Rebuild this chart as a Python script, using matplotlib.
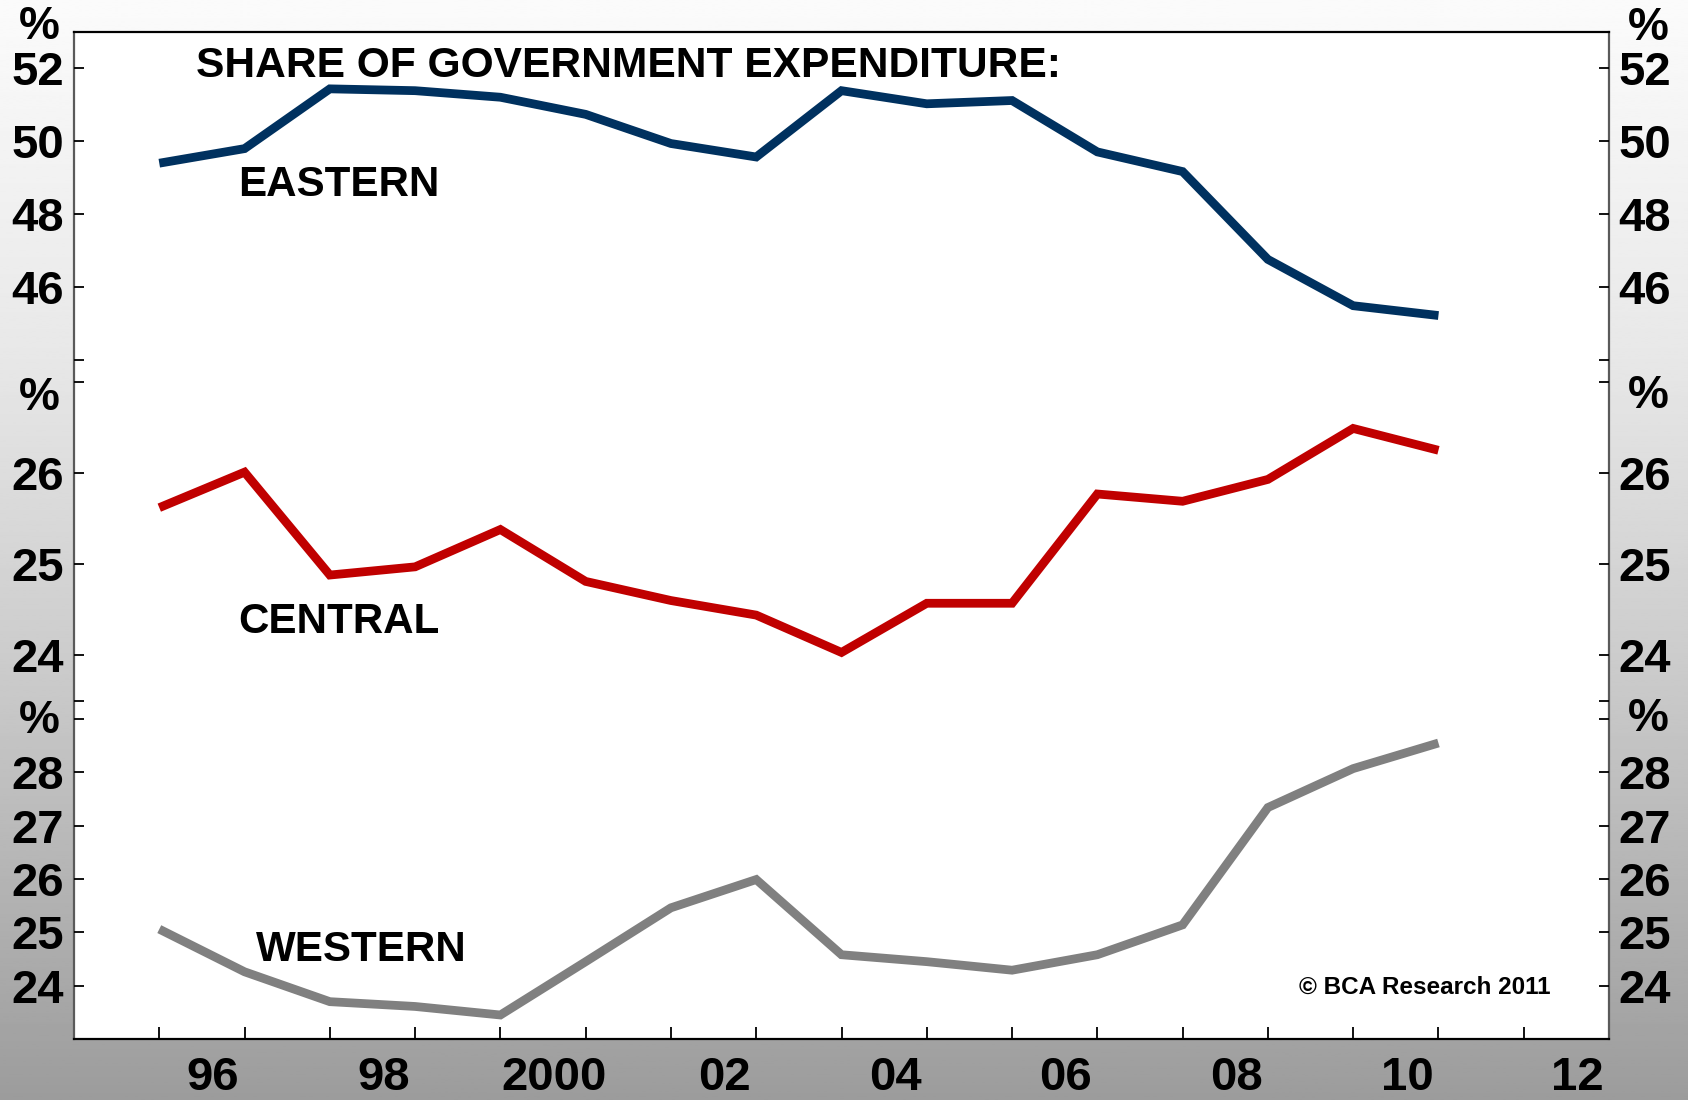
import numpy as np
import matplotlib
matplotlib.use("Agg")
import matplotlib.pyplot as plt

plt.rcParams['font.family'] = ['Liberation Sans', 'DejaVu Sans']
plt.rcParams['font.weight'] = 'bold'

# datos anuales, 1995-2010 (% del gasto del gobierno)
years = [1995, 1996, 1997, 1998, 1999, 2000, 2001, 2002,
         2003, 2004, 2005, 2006, 2007, 2008, 2009, 2010]
eastern = [49.4, 49.8, 51.44, 51.39, 51.21, 50.74, 49.94, 49.57,
           51.39, 51.03, 51.12, 49.71, 49.17, 46.76, 45.49, 45.22]
central = [25.62, 26.01, 24.88, 24.97, 25.38, 24.81, 24.60, 24.44,
           24.03, 24.57, 24.57, 25.77, 25.69, 25.93, 26.49, 26.25]
western = [25.06, 24.26, 23.70, 23.61, 23.45, 24.45, 25.46, 25.99,
           24.58, 24.45, 24.29, 24.58, 25.14, 27.34, 28.07, 28.55]

year_labels = ['96', '98', '2000', '02', '04', '06', '08', '10', '12']
label_years = [1996, 1998, 2000, 2002, 2004, 2006, 2008, 2010, 2012]

eastern_ticks = [44, 46, 48, 50, 52]
central_ticks = [23.5, 24, 25, 26, 27]
western_ticks = [24, 25, 26, 27, 28, 29]

# valor anual dibujado al final del año
x = np.array(years) + 1.0

fig = plt.figure(figsize=(16.88, 11), dpi=100)

# fondo degradado
bg = fig.add_axes([0, 0, 1, 1], zorder=-3)
rows = np.linspace(0, 1100, 400)
shade = np.interp(rows, [0, 350, 700, 1100], [251, 232, 200, 156]) / 255.0
bg.imshow(np.repeat(shade[:, None], 2, axis=1), cmap='gray', vmin=0, vmax=1,
          aspect='auto', extent=[0, 1, 0, 1])
bg.axis('off')

L, W = 74 / 1688, 1535 / 1688
def fy(px):
    return 1 - px / 1100

frame = fig.add_axes([L, fy(1039), W, fy(32) - fy(1039)], zorder=-2)
frame.set_facecolor('white')
frame.set_xticks([])
frame.set_yticks([])
for s in ['left', 'right']:
    frame.spines[s].set_color('#5a5a5a')
    frame.spines[s].set_linewidth(1.6)
for s in ['top', 'bottom']:
    frame.spines[s].set_color('black')
    frame.spines[s].set_linewidth(1.6)

ax1 = fig.add_axes([L, fy(360), W, fy(32) - fy(360)])
ax2 = fig.add_axes([L, fy(700.7), W, fy(382) - fy(700.7)])
ax3 = fig.add_axes([L, fy(1039), W, fy(719) - fy(1039)])

panels = [
    (ax1, eastern, '#00315f', (44, 53), eastern_ticks, [46, 48, 50, 52]),
    (ax2, central, '#c00000', (23.5, 27), central_ticks, [24, 25, 26]),
    (ax3, western, '#808080', (23, 29), western_ticks, [24, 25, 26, 27, 28]),
]

for ax, vals, col, lims, ticks, shown in panels:
    ax.patch.set_alpha(0)
    for s in ax.spines.values():
        s.set_visible(False)
    ax.plot(x, vals, color=col, lw=6.3, solid_joinstyle='miter', solid_capstyle='butt')
    ax.set_xlim(1995, 2013)
    ax.set_ylim(*lims)
    ax.set_yticks(ticks)
    ax.set_yticklabels([str(t) if t in shown else '' for t in ticks])
    ax.tick_params(axis='y', direction='in', length=7, width=1.3, color='black',
                   labelsize=34, pad=7, left=True, right=True,
                   labelleft=True, labelright=True)
    ax.set_xticks([])

for ax, yl, yr in [(ax1, 1.015, 1.012), (ax2, 0.95, 0.956), (ax3, 0.994, 1.0)]:
    ax.text(-0.0228, yl, '%', transform=ax.transAxes, ha='center', va='center',
            fontsize=33, fontweight='bold', clip_on=False)
    ax.text(1.0254, yr, '%', transform=ax.transAxes, ha='center', va='center',
            fontsize=33, fontweight='bold', clip_on=False)

ax3.set_xticks(range(1996, 2013))
ax3.set_xticklabels([])
ax3.set_xticks([y + 0.63 for y in label_years], minor=True)
ax3.set_xticklabels(year_labels, minor=True)
ax3.tick_params(axis='x', which='major', direction='in', length=9, width=1.3,
                color='black', bottom=True)
ax3.tick_params(axis='x', which='minor', length=0, labelsize=34, pad=12)

ax1.text(0.0795, 0.895, 'SHARE OF GOVERNMENT EXPENDITURE:', transform=ax1.transAxes,
         ha='left', va='center', fontsize=30.6, fontweight='bold')
ax1.text(0.1068, 0.535, 'EASTERN', transform=ax1.transAxes,
         ha='left', va='center', fontsize=30.3, fontweight='bold')
ax2.text(0.1068, 0.247, 'CENTRAL', transform=ax2.transAxes,
         ha='left', va='center', fontsize=30.3, fontweight='bold')
ax3.text(0.1186, 0.278, 'WESTERN', transform=ax3.transAxes,
         ha='left', va='center', fontsize=30.3, fontweight='bold')
ax3.text(0.9616, 0.163, '© BCA Research 2011', transform=ax3.transAxes,
         ha='right', va='center', fontsize=17.5, fontweight='bold')

fig.savefig('out.png', dpi=100)
